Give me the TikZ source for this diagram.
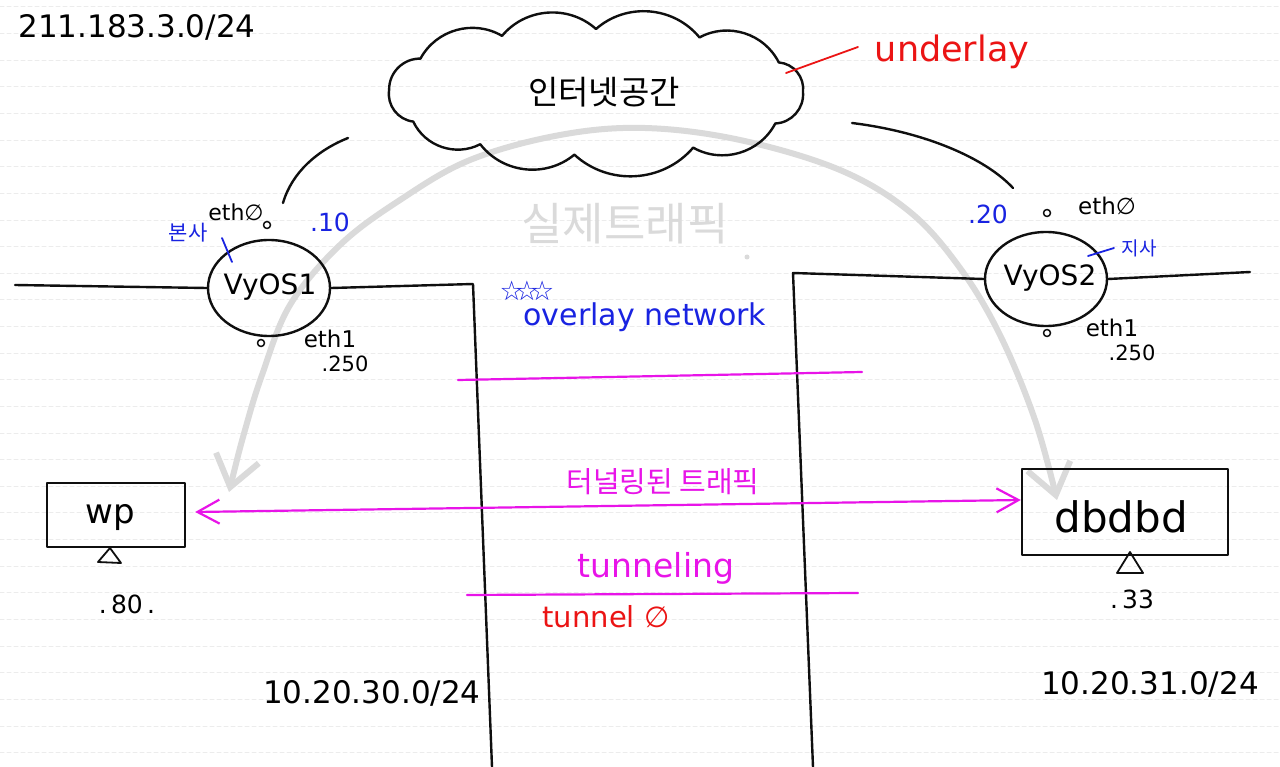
\documentclass[tikz,border=0pt]{standalone}
\usepackage{fontspec}
\setmainfont{DejaVu Sans}
\newfontfamily\kr{Noto Sans CJK KR}
\usetikzlibrary{shapes.geometric,arrows.meta,calc}
\definecolor{mag}{RGB}{232,20,232}
\definecolor{pen}{RGB}{15,15,15}
\definecolor{bpen}{RGB}{25,35,225}
\definecolor{rpen}{RGB}{235,20,20}
\definecolor{ghost}{RGB}{218,218,218}
\definecolor{ruled}{RGB}{236,236,236}
\begin{document}
\begin{tikzpicture}[x=1pt,y=-1pt,line cap=round,line join=round,
  txt/.style={inner sep=0pt,font=\fontsize{#1}{#1}\selectfont},
  krtxt/.style={inner sep=0pt,font=\kr\fontsize{#1}{#1}\selectfont},
  ink/.style={draw=pen,line width=2.4pt},
  thin/.style={draw=pen,line width=1.8pt},
  port/.style={circle,draw=pen,line width=1.5pt,inner sep=0pt,minimum size=7pt},
  router/.style={ellipse,draw=pen,line width=2.4pt,inner sep=0pt},
  hostbox/.style={rectangle,draw=pen,line width=2.4pt,inner sep=0pt},
  magline/.style={draw=mag,line width=2.2pt},
  ghostarrow/.style={draw=ghost,line width=6pt,arrows={Straight Barb[length=30pt,width=44pt]-Straight Barb[length=30pt,width=44pt]}},
  tunarrow/.style={draw=mag,line width=2.2pt,arrows={Straight Barb[length=22pt,width=24pt]-Straight Barb[length=22pt,width=24pt]}}]
\fill[white] (0,0) rectangle (1280,767);
\useasboundingbox (0,0) rectangle (1280,767);
% notebook rules
\foreach \i in {0,...,28}
  \draw[ruled,line width=1pt,dash pattern=on 4pt off 3pt] (0,{7+26.63*\i}) -- (1280,{7+26.63*\i});

% real traffic (ghost arc)
\node[krtxt=45,text=ghost] (real) at (625,224) {실제트래픽};
\fill[ghost] (747,257) circle (2.5pt);
\coordinate (g1) at (229,492);
\coordinate (g2) at (1057,500);
\draw[ghostarrow] plot[smooth,tension=0.6] coordinates {(g1) (245,430) (262,375) (290,305) (340,245) (400,200) (470,160) (560,135) (645,128) (740,140) (840,170) (910,212) (960,268) (1000,335) (1035,420) (g2)};

% cloud
\coordinate (cc) at (596,92);
\draw[ink] ($(cc)+(0:207 and 63)$)
  \foreach \a in {30,62,96,124,152,182,212,243,270,300,332,360} { to[bend left=46] ($(cc)+(\a:207 and 63)$) } -- cycle;
\node[krtxt=33] (inet) at (604,92) {인터넷공간};
\node[txt=35,text=rpen] (under) at (952,52) {underlay};
\coordinate (ut) at (786,73);
\draw[draw=rpen,line width=1.8pt] (ut) -- (858,47);

\node[txt=31] (net0) at (137,27) {211.183.3.0/24};

% routers
\node[router,minimum width=122pt,minimum height=96pt] (v1) at (269,288) {};
\node[txt=28] (v1t) at (270,287) {VyOS1};
\node[router,minimum width=122pt,minimum height=94pt] (v2) at (1046,279) {};
\node[txt=28] (v2t) at (1050,278) {VyOS2};

% links from cloud
\coordinate (a1) at (283,203);
\coordinate (a2) at (348,138);
\draw[ink] (a1) .. controls (292,172) and (318,150) .. (a2);
\coordinate (b1) at (852,123);
\coordinate (b2) at (1013,188);
\draw[ink] (b1) .. controls (925,132) and (985,158) .. (b2);

% site walls
\coordinate (l1) at (15,285);
\coordinate (c1) at (473,284);
\coordinate (d1) at (492,767);
\draw[ink] (l1) -- (v1.west);
\draw[ink] (v1.east) -- (c1) -- (d1);
\coordinate (r1) at (1250,272);
\coordinate (c2) at (793,273);
\coordinate (d2) at (813,767);
\draw[ink] (v2.east) -- (r1);
\draw[ink] (v2.west) -- (c2) -- (d2);

% VyOS1 labels
\node[txt=22] (e10) at (236,212) {eth∅};
\node[port] (p10) at (267,225) {};
\node[txt=25,text=bpen] (ip10) at (330,222) {.10};
\node[krtxt=21,text=bpen] (hq) at (188,233) {본사};
\coordinate (hqa) at (222,238);
\draw[draw=bpen,line width=1.8pt] (hqa) -- (232,262);
\node[txt=23] (e11) at (330,339) {eth1};
\node[port] (p11) at (261,343) {};
\node[txt=21] (ip11) at (345,364) {.250};

% VyOS2 labels
\node[txt=25,text=bpen] (ip20) at (988,214) {.20};
\node[port] (p20) at (1047,213) {};
\node[txt=23] (e20) at (1107,206) {eth∅};
\node[krtxt=19,text=bpen] (br) at (1139,248) {지사};
\coordinate (bra) at (1088,256);
\draw[draw=bpen,line width=1.8pt] (bra) -- (1114,248);
\node[port] (p21) at (1047,333) {};
\node[txt=23] (e21) at (1112,328) {eth1};
\node[txt=21] (ip21) at (1132,353) {.250};

% overlay
\node[txt=27,text=bpen] (stars) at (527,291) {☆\kern-9pt☆\kern-9pt☆};
\node[txt=30,text=bpen] (ovl) at (645,317) {overlay network};
\coordinate (m1a) at (458,380);
\coordinate (m1b) at (862,372);
\draw[magline] (m1a) -- (m1b);

% hosts
\node[hostbox,minimum width=138pt,minimum height=64pt] (wp) at (116,515) {};
\node[txt=34] (wpt) at (110,518) {wp};
\draw[thin] (98,562) -- (110,548) -- (121,563) -- cycle;
\node[txt=25] (ip80) at (127,604) {.\,80\,.};
\node[hostbox,minimum width=206pt,minimum height=86pt] (db) at (1125,512) {};
\node[txt=42] (dbt) at (1121,517) {dbdbd};
\draw[thin] (1117,573) -- (1130,552) -- (1143,573) -- cycle;
\node[txt=25] (ip33) at (1132,599) {.\,33};

% tunnel
\node[krtxt=29,text=mag] (tt) at (663,482) {터널링된 트래픽};
\draw[tunarrow] (wp.east) ++(9,-3) coordinate (ta) (ta) -- (db.west |- 0,500) ;
\node[txt=33,text=mag] (tun) at (656,568) {tunneling};
\coordinate (m2a) at (467,595);
\coordinate (m2b) at (858,593);
\draw[magline] (m2a) -- (m2b);
\node[txt=29,text=rpen] (t0) at (606,617) {tunnel ∅};

\node[txt=31] (net1) at (372,693) {10.20.30.0/24};
\node[txt=31] (net2) at (1150,684) {10.20.31.0/24};
\end{tikzpicture}
\end{document}
